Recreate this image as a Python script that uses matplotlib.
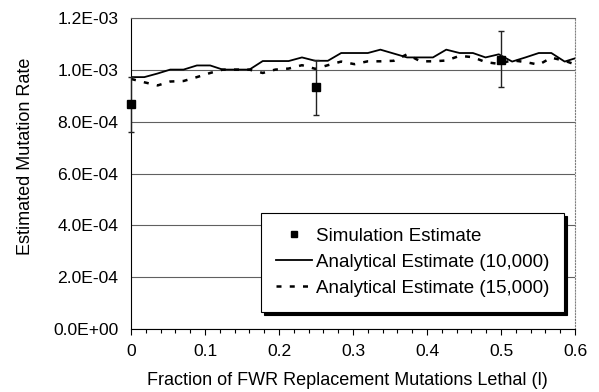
import matplotlib
matplotlib.use('Agg')
import matplotlib.pyplot as plt
from matplotlib.lines import Line2D
from matplotlib.ticker import FuncFormatter, MultipleLocator
import numpy as np

plt.rcParams['font.family'] = ['Liberation Sans', 'DejaVu Sans']

# analytical estimates (x = fraction lethal, y = mutation rate)
l_values = [0.000, 0.018, 0.036, 0.053, 0.071, 0.089, 0.107, 0.124, 0.142, 0.160,
            0.178, 0.195, 0.213, 0.231, 0.249, 0.266, 0.284, 0.302, 0.320, 0.337,
            0.355, 0.373, 0.391, 0.408, 0.426, 0.444, 0.462, 0.479, 0.497, 0.515,
            0.533, 0.551, 0.568, 0.586, 0.604]
est_10000 = [0.972, 0.972, 0.986, 1.001, 1.001, 1.017, 1.017, 1.001, 1.001, 1.001,
             1.034, 1.034, 1.034, 1.048, 1.035, 1.035, 1.065, 1.065, 1.065, 1.078,
             1.063, 1.048, 1.048, 1.048, 1.078, 1.065, 1.065, 1.048, 1.060, 1.032,
             1.048, 1.065, 1.065, 1.032, 1.048]
est_15000 = [0.965, 0.952, 0.940, 0.955, 0.957, 0.972, 0.988, 1.001, 1.001, 1.001,
             0.988, 1.001, 1.005, 1.018, 1.004, 1.018, 1.032, 1.022, 1.033, 1.033,
             1.035, 1.060, 1.033, 1.033, 1.036, 1.054, 1.049, 1.030, 1.023, 1.037,
             1.030, 1.020, 1.047, 1.035, 1.017]

# simulation estimates with error bars
sim_l = [0.0, 0.25, 0.5]
sim_rate = [0.868, 0.933, 1.039]
sim_low = [0.761, 0.826, 0.933]
sim_high = [0.972, 1.039, 1.150]

scale = 1e-3
est_10000 = np.array(est_10000) * scale
est_15000 = np.array(est_15000) * scale
sim_rate = np.array(sim_rate) * scale
sim_low = np.array(sim_low) * scale
sim_high = np.array(sim_high) * scale

fig = plt.figure(figsize=(5.99, 3.92), dpi=100)
ax = fig.add_axes([0.2187, 0.1607, 0.7413, 0.7933])

ax.grid(axis='y', color='#606060', linewidth=0.8)
ax.set_axisbelow(True)

dash = (0, (2, 3.3))
ax.plot(l_values, est_10000, color='black', linewidth=1.3, zorder=3)
ax.plot(l_values, est_15000, color='black', linewidth=1.8, linestyle=dash, zorder=3)
ax.errorbar(sim_l, sim_rate, yerr=[sim_rate - sim_low, sim_high - sim_rate], fmt='s',
            color='black', ecolor='#222222', elinewidth=1, capsize=2.5, markersize=6,
            zorder=4, clip_on=False)

ax.set_xlim(0, 0.6)
ax.set_ylim(0, 1.2e-3)
ax.xaxis.set_major_locator(MultipleLocator(0.1))
ax.xaxis.set_minor_locator(MultipleLocator(0.02))
ax.xaxis.set_major_formatter(FuncFormatter(lambda v, p: '0' if abs(v) < 1e-9 else f'{v:.1f}'))
ax.yaxis.set_major_locator(MultipleLocator(0.2e-3))
ax.yaxis.set_major_formatter(FuncFormatter(lambda v, p: f'{v:.1E}'))

ax.tick_params(axis='x', which='major', direction='out', length=4, width=0.8, pad=7, labelsize=12.6)
ax.tick_params(axis='x', which='minor', direction='out', length=3, width=0.8)
ax.tick_params(axis='y', length=0, pad=9, labelsize=12.6)

ax.spines['left'].set_color('black')
ax.spines['bottom'].set_color('black')
ax.spines['top'].set_color('#606060')
ax.spines['top'].set_linewidth(0.8)
ax.spines['right'].set_color('#808080')
ax.spines['right'].set_linestyle(':')

ax.set_xlabel('Fraction of FWR Replacement Mutations Lethal (l)', fontsize=13, va='center')
ax.xaxis.set_label_coords(0.4876, -0.164)
ax.set_ylabel('Estimated Mutation Rate', fontsize=13, va='center')
ax.yaxis.set_label_coords(-0.2365, 0.555)

handles = [Line2D([], [], color='black', marker='s', linestyle='none', markersize=5),
           Line2D([], [], color='black', linewidth=1.3),
           Line2D([], [], color='black', linewidth=1.8, linestyle=dash)]
labels = ['Simulation Estimate', 'Analytical Estimate (10,000)', 'Analytical Estimate (15,000)']
leg = ax.legend(handles, labels,
                loc='lower right', bbox_to_anchor=(0.975, 0.055), borderaxespad=0,
                fancybox=False, shadow={'color': 'black', 'alpha': 1}, framealpha=1,
                edgecolor='black', fontsize=13.5, handlelength=1.9, handletextpad=0.2,
                labelspacing=0.47, borderpad=0.8)
leg.get_frame().set_linewidth(0.8)

plt.savefig('out.png', dpi=100)
plt.close()
